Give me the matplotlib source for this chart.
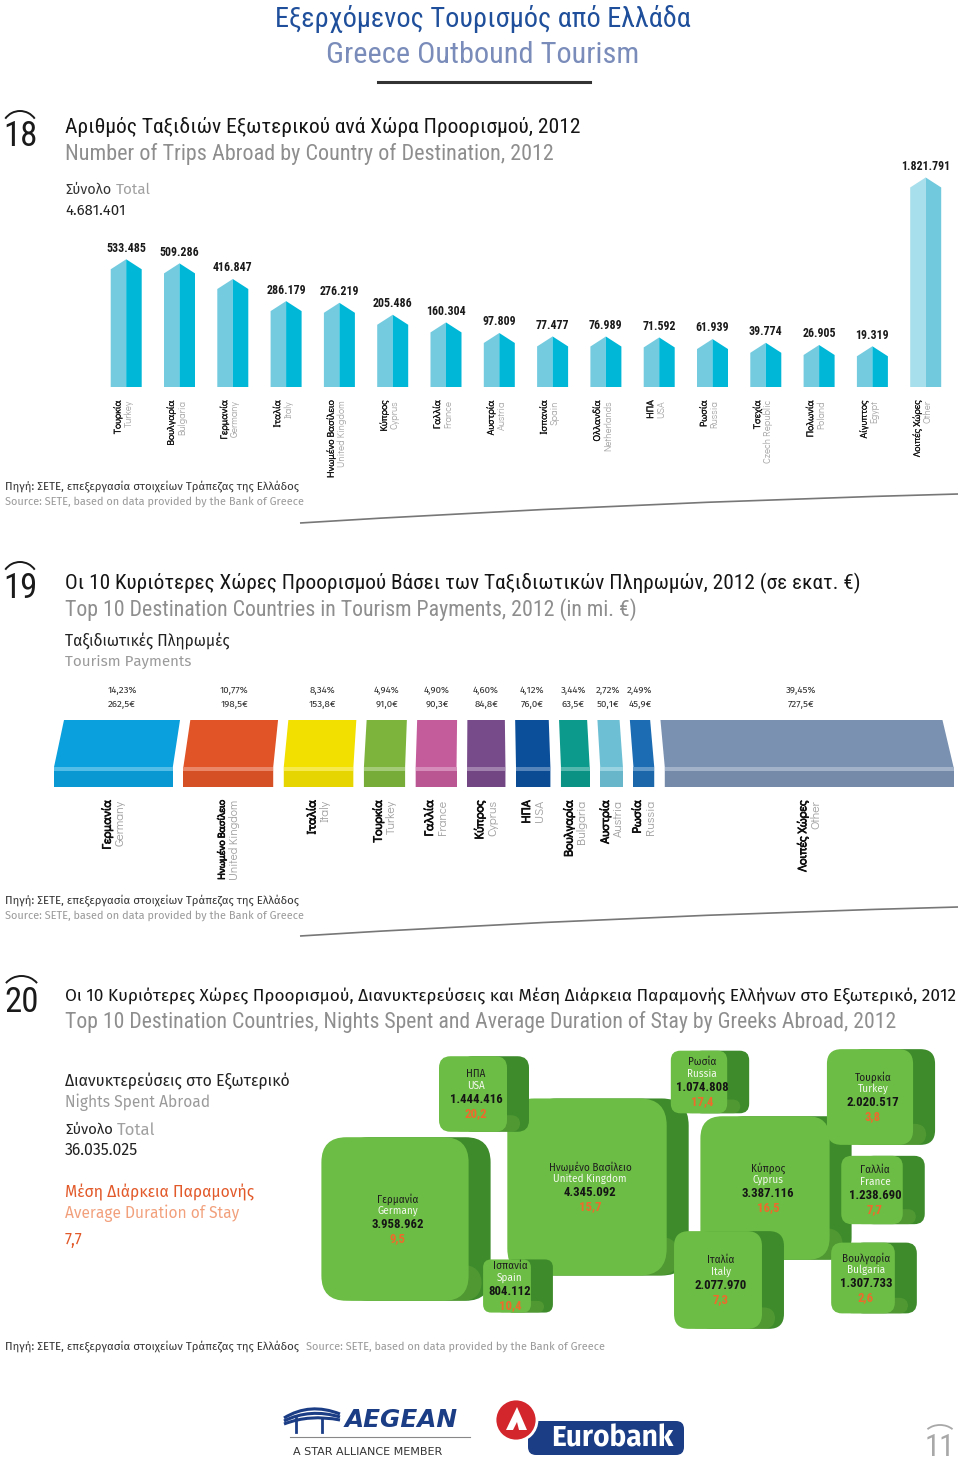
import matplotlib
matplotlib.use('Agg')
import matplotlib.pyplot as plt
import matplotlib.colors as mc
import matplotlib.patheffects as pe
from matplotlib.patches import Polygon, FancyBboxPatch, Arc, PathPatch, Circle
from matplotlib.path import Path
from matplotlib import font_manager as fm

# ---------------- DATA ----------------
trip_gr = ['Τουρκία', 'Βουλγαρία', 'Γερμανία', 'Ιταλία', 'Ηνωμένο Βασίλειο', 'Κύπρος',
           'Γαλλία', 'Αυστρία', 'Ισπανία', 'Ολλανδία', 'ΗΠΑ', 'Ρωσία', 'Τσεχία',
           'Πολωνία', 'Αίγυπτος', 'Λοιπές Χώρες']
trip_en = ['Turkey', 'Bulgaria', 'Germany', 'Italy', 'United Kingdom', 'Cyprus',
           'France', 'Austria', 'Spain', 'Netherlands', 'USA', 'Russia',
           'Czech Republic', 'Poland', 'Egypt', 'Other']
trip_values = [533485, 509286, 416847, 286179, 276219, 205486, 160304, 97809,
               77477, 76989, 71592, 61939, 39774, 26905, 19319, 1821791]
trip_total = 4681401

pay_gr = ['Γερμανία', 'Ηνωμένο Βασίλειο', 'Ιταλία', 'Τουρκία', 'Γαλλία', 'Κύπρος',
          'ΗΠΑ', 'Βουλγαρία', 'Αυστρία', 'Ρωσία', 'Λοιπές Χώρες']
pay_en = ['Germany', 'United Kingdom', 'Italy', 'Turkey', 'France', 'Cyprus',
          'USA', 'Bulgaria', 'Austria', 'Russia', 'Other']
pay_values = [262.5, 198.5, 153.8, 91.0, 90.3, 84.8, 76.0, 63.5, 50.1, 45.9, 727.5]
pay_shares = [14.23, 10.77, 8.34, 4.94, 4.90, 4.60, 4.12, 3.44, 2.72, 2.49, 39.45]

night_gr = ['Ηνωμένο Βασίλειο', 'Γερμανία', 'Κύπρος', 'Ιταλία', 'Τουρκία', 'ΗΠΑ',
            'Βουλγαρία', 'Γαλλία', 'Ρωσία', 'Ισπανία']
night_en = ['United Kingdom', 'Germany', 'Cyprus', 'Italy', 'Turkey', 'USA',
            'Bulgaria', 'France', 'Russia', 'Spain']
night_values = [4345092, 3958962, 3387116, 2077970, 2020517, 1444416, 1307733,
                1238690, 1074808, 804112]
night_stay = [15.7, 9.5, 16.5, 7.3, 3.8, 20.2, 2.6, 7.7, 17.4, 10.4]
night_total = 36035025
stay_average = 7.7

# ---------------- LAYOUT / STYLE ----------------
# hand-arranged centres of the 3D boxes (chart 20), in page pixels
night_layout = [(587, 1187), (395, 1219), (765, 1188), (718, 1280), (870, 1097),
                (473, 1094), (863, 1278), (872, 1190), (699, 1082), (507, 1286)]

names = {f.name for f in fm.fontManager.ttflist}


def pick(cands, default='DejaVu Sans'):
    return next((n for n in cands if n in names), default)


COND = pick(['Roboto Condensed', 'Fira Sans Condensed', 'IBM Plex Sans Condensed', 'Roboto'])
BODY = pick(['Fira Sans', 'Open Sans', 'Noto Sans'])
GEO = pick(['Didact Gothic', 'Open Sans', 'Noto Sans'])


def fam(f):
    return [f, 'Noto Sans', 'DejaVu Sans']


def gnum(v):
    return f"{v:,}".replace(',', '.')


def dec(v, n=1):
    return f"{v:.{n}f}".replace('.', ',')


W, H = 960, 1462
fig = plt.figure(figsize=(W / 100, H / 100), dpi=100)
fig.patch.set_facecolor('white')
bg = fig.add_axes([0, 0, 1, 1])
bg.set_xlim(0, W)
bg.set_ylim(H, 0)
bg.axis('off')
R = fig.canvas.get_renderer()


def px_axes(l, t, r, b):
    a = fig.add_axes([l / W, 1 - b / H, (r - l) / W, (b - t) / H])
    a.axis('off')
    return a


def T(x, y, s, fs=10, color='#222222', f=None, w=None, ha='left', va='center',
      weight='normal', **kw):
    t = bg.text(x, y, s, fontsize=fs, color=color, family=fam(f or BODY), ha=ha,
                va=va, fontweight=weight, **kw)
    if w:
        bb = t.get_window_extent(renderer=R)
        t.set_fontsize(fs * w / bb.width)
    return t


def T_after(t, s, gap=4, **kw):
    bb = t.get_window_extent(renderer=R)
    x_end = bg.transData.inverted().transform((bb.x1, bb.y0))[0]
    x, y = t.get_position()
    return T(x_end + gap, y, s, **kw)


def fit_len(t, maxlen):
    bb = t.get_window_extent(renderer=R)
    if bb.height > maxlen:
        t.set_fontsize(t.get_fontsize() * maxlen / bb.height)


def sec_number(x, y, s, w):
    T(x + w / 2, y, s, fs=25, color='#1a1a1a', f=COND, ha='center')
    bg.add_patch(Arc((x + w / 2, y - 8), w + 6, 36, theta1=215, theta2=325,
                     color='#1a1a1a', lw=1.4))


def swoosh(p0, pc, p1, lw=1.2):
    path = Path([p0, pc, p1], [Path.MOVETO, Path.CURVE3, Path.CURVE3])
    bg.add_patch(PathPatch(path, fc='none', ec='#777777', lw=lw))


def lighten(c, f):
    return tuple(1 - (1 - x) * (1 - f) for x in mc.to_rgb(c))


def darken(c, f):
    return tuple(x * (1 - f) for x in mc.to_rgb(c))


GREY = '#8e8e8e'
SRC_GR = 'Πηγή: ΣΕΤΕ, επεξεργασία στοιχείων Τράπεζας της Ελλάδος'
SRC_EN = 'Source: SETE, based on data provided by the Bank of Greece'

# ---------------- HEADER ----------------
T(483, 19, 'Εξερχόμενος Τουρισμός από Ελλάδα', fs=22, color='#1f4f9b', f=COND,
  w=415, ha='center')
T(483, 55, 'Greece Outbound Tourism', fs=20, color='#7a8cba', f=COND, w=313,
  ha='center')
bg.plot([378, 590], [82, 82], color='#333333', lw=2.2)

# ---------------- CHART 18 ----------------
sec_number(5, 137, '18', 30)
T(65, 127, 'Αριθμός Ταξιδιών Εξωτερικού ανά Χώρα Προορισμού, 2012', fs=15,
  color='#151515', f=COND, w=515)
T(65, 154, 'Number of Trips Abroad by Country of Destination, 2012', fs=15,
  color=GREY, f=COND, w=488)
t = T(65, 190, 'Σύνολο', fs=11, color='#333333', w=46)
T_after(t, 'Total', gap=4, fs=11, color='#a0a0a0')
T(65, 211, gnum(trip_total), fs=11, color='#222222', w=60)

PXU = 0.1692 / 1000          # pixels per trip
BASE_PX = 27.45              # visual stub below the zero line
X0_18, STEP_18 = 126.2, 53.3
TOP_18, BOT_18 = 150, 387
BREAK_18 = 1017000           # scale break for the "Other" column
ax18 = px_axes(X0_18 - STEP_18 / 2, TOP_18,
               X0_18 + (len(trip_values) - 0.5) * STEP_18, BOT_18)
Y0 = -BASE_PX / PXU
ax18.set_xlim(-0.5, len(trip_values) - 0.5)
ax18.set_ylim(Y0, Y0 + (BOT_18 - TOP_18) / PXU)
hw = 15.5 / STEP_18
roof = 10 / PXU
for i, (v, g, e) in enumerate(zip(trip_values, trip_gr, trip_en)):
    other = (i == len(trip_values) - 1)
    dv = min(v, BREAK_18)
    cl, cr = ('#a8dfec', '#71c9dd') if other else ('#74cbe0', '#00b7d8')
    ax18.add_patch(Polygon([(i - hw, Y0), (i - hw, dv), (i, dv + roof), (i, Y0)],
                           closed=True, fc=cl, ec='none'))
    ax18.add_patch(Polygon([(i, Y0), (i, dv + roof), (i + hw, dv), (i + hw, Y0)],
                           closed=True, fc=cr, ec='none'))
    ax18.annotate(gnum(v), (i, dv + roof), xytext=(0, 8), textcoords='offset points',
                  ha='center', va='center', fontsize=8.6, fontweight='bold',
                  color='#1a1a1a', family=fam(COND), annotation_clip=False)
    ax18.annotate(g, (i, Y0), xytext=(-6.3, -9.5), textcoords='offset points',
                  rotation=90, ha='center', va='top', fontsize=7.0, color='#111111',
                  family=fam(GEO), annotation_clip=False, path_effects=[
                      pe.withStroke(linewidth=0.2, foreground='#111111')])
    ax18.annotate(e, (i, Y0), xytext=(1.8, -9.5), textcoords='offset points',
                  rotation=90, ha='center', va='top', fontsize=7.0, color='#a5a5a5',
                  family=fam(GEO), annotation_clip=False)

T(5, 487, SRC_GR, fs=8, color='#333333', w=295)
T(5, 502, SRC_EN, fs=8, color='#9a9a9a', w=300)
swoosh((300, 523), (620, 503), (958, 494))

# ---------------- CHART 19 ----------------
sec_number(5, 588, '19', 30)
T(65, 583, 'Οι 10 Κυριότερες Χώρες Προορισμού Βάσει των Ταξιδιωτικών Πληρωμών, 2012 (σε εκατ. €)',
  fs=15, color='#151515', f=COND, w=798)
T(65, 610, 'Top 10 Destination Countries in Tourism Payments, 2012 (in mi. €)', fs=15,
  color=GREY, f=COND, w=575)
T(65, 641, 'Ταξιδιωτικές Πληρωμές', fs=12, color='#222222', w=165)
T(65, 662, 'Tourism Payments', fs=12, color='#9a9a9a', w=127)

pay_colors = ['#0aa0dd', '#e05427', '#f2e000', '#7db53c', '#c45b9a', '#774a89',
              '#0b4f9b', '#0b9a8b', '#6dc0d4', '#1c6cb3', '#7a91b1']
PXE = 0.442                   # pixels per million euro
X0_19 = 64
GAP_19 = 10.3 / PXE
OTHER_SQUEEZE = 0.877
TOP_19, BOT_19 = 720, 787
ax19 = px_axes(40, TOP_19, 960, BOT_19)
ax19.set_xlim((40 - X0_19) / PXE, (960 - X0_19) / PXE)
ax19.set_ylim(0, 1)
XC = (480 - X0_19) / PXE
K = 0.024
S_TOP, S_BOT = 0.298, 0.239


def shift(x):
    return x + K * (x - XC)


cum = 0.0
for i, (v, p, g, e, c) in enumerate(zip(pay_values, pay_shares, pay_gr, pay_en, pay_colors)):
    wv = v * (OTHER_SQUEEZE if i == len(pay_values) - 1 else 1.0)
    L, Rr = cum, cum + wv
    Lb, Rb = shift(L), shift(Rr)
    ax19.add_patch(Polygon([(L, 1), (Rr, 1), (Rb, S_TOP), (Rb, 0), (Lb, 0), (Lb, S_TOP)],
                           closed=True, fc=c, ec='none'))
    ax19.add_patch(Polygon([(Lb, 0), (Rb, 0), (Rb, S_BOT), (Lb, S_BOT)], closed=True,
                           fc=darken(c, 0.05), ec='none'))
    ax19.add_patch(Polygon([(Lb, S_BOT), (Rb, S_BOT), (Rb, S_TOP), (Lb, S_TOP)], closed=True,
                           fc=lighten(c, 0.3), ec='none'))
    ctop = (L + Rr) / 2
    ax19.annotate(dec(p, 2) + '%', (ctop, 1), xytext=(0, 21.6), textcoords='offset points',
                  ha='center', va='center', fontsize=7.0, color='#333333',
                  family=fam(BODY), annotation_clip=False)
    ax19.annotate(dec(v) + '€', (ctop, 1), xytext=(0, 11.5), textcoords='offset points',
                  ha='center', va='center', fontsize=7.0, color='#333333',
                  family=fam(BODY), annotation_clip=False)
    cb = (Lb + Rb) / 2
    tg = ax19.annotate(g, (cb, 0), xytext=(-4.8, -9.4), textcoords='offset points',
                       rotation=90, ha='center', va='top', fontsize=8.8, color='#111111',
                       family=fam(GEO), annotation_clip=False,
                       path_effects=[pe.withStroke(linewidth=0.6, foreground='#111111')])
    te = ax19.annotate(e, (cb, 0), xytext=(4.6, -9.4), textcoords='offset points',
                       rotation=90, ha='center', va='top', fontsize=8.8, color='#a0a0a0',
                       family=fam(GEO), annotation_clip=False)
    fit_len(tg, 80)
    fit_len(te, 80)
    cum = Rr + GAP_19

T(5, 901, SRC_GR, fs=8, color='#333333', w=295)
T(5, 916, SRC_EN, fs=8, color='#9a9a9a', w=300)
swoosh((300, 936), (620, 916), (958, 907))

# ---------------- CHART 20 ----------------
sec_number(5, 1002, '20', 33)
T(65, 996, 'Οι 10 Κυριότερες Χώρες Προορισμού, Διανυκτερεύσεις και Μέση Διάρκεια Παραμονής Ελλήνων στο Εξωτερικό, 2012',
  fs=14, color='#151515', f=BODY, w=892)
T(65, 1022, 'Top 10 Destination Countries, Nights Spent and Average Duration of Stay by Greeks Abroad, 2012',
  fs=14, color=GREY, f=COND, w=838)
T(65, 1081, 'Διανυκτερεύσεις στο Εξωτερικό', fs=12, color='#222222', w=225)
T(65, 1102, 'Nights Spent Abroad', fs=12, color='#9a9a9a', w=145)
t = T(65, 1130, 'Σύνολο', fs=12, color='#222222', w=48)
T_after(t, 'Total', gap=4, fs=12, color='#a0a0a0')
T(65, 1150, gnum(night_total), fs=12, color='#222222', w=73)
T(65, 1192, 'Μέση Διάρκεια Παραμονής', fs=12, color='#e2592a', w=189)
T(65, 1213, 'Average Duration of Stay', fs=12, color='#f2a07c', w=175)
T(65, 1240, dec(stay_average), fs=12, color='#e2592a', w=18)

BOX_A, BOX_B = 25.0, 35.0      # px, px per million nights
DEPTH = 22
FRONT, SIDE, SIDE_LIGHT = '#6cbd45', '#3d8b2b', '#5ea338'
z = 3
for g, e, v, s, (cx, cy) in zip(night_gr, night_en, night_values, night_stay, night_layout):
    h = BOX_A + BOX_B * v / 1e6
    w = 0.9 * h
    r = 0.17 * w
    bg.add_patch(FancyBboxPatch((cx - w / 2 + DEPTH, cy - h / 2), w, h,
                                boxstyle=f"round,pad=0,rounding_size={r}",
                                fc=SIDE, ec='none', zorder=z))
    bg.add_patch(FancyBboxPatch((cx - w / 2 + DEPTH * 0.6, cy + h / 2 - 0.22 * h),
                                w, 0.22 * h,
                                boxstyle=f"round,pad=0,rounding_size={r * 0.8}",
                                fc=SIDE_LIGHT, ec='none', zorder=z, alpha=0.55))
    bg.add_patch(FancyBboxPatch((cx - w / 2, cy - h / 2), w, h,
                                boxstyle=f"round,pad=0,rounding_size={r}",
                                fc=FRONT, ec='none', zorder=z + 1))
    tx = cx + 3
    bg.text(tx, cy - 20, g, ha='center', va='center', fontsize=7.2, color='#1e1e1e',
            family=fam(BODY), zorder=z + 2)
    bg.text(tx, cy - 8, e, ha='center', va='center', fontsize=7.2, color='#f4f8ef',
            family=fam(BODY), zorder=z + 2)
    bg.text(tx, cy + 5.5, gnum(v), ha='center', va='center', fontsize=9.2,
            fontweight='bold', color='#151515', family=fam(COND), zorder=z + 2)
    bg.text(tx, cy + 19.5, dec(s), ha='center', va='center', fontsize=9.2,
            fontweight='bold', color='#ee6a2c', family=fam(COND), zorder=z + 2)
    z += 3

T(5, 1347, SRC_GR, fs=8, color='#333333', w=295)
T(306, 1347, SRC_EN, fs=8, color='#9a9a9a', w=300)

# ---------------- FOOTER ----------------
NAVY = '#1b3d86'
T(345, 1420, 'AEGEAN', fs=18, color=NAVY, f='DejaVu Sans', w=113, weight='bold',
  style='italic')
bg.plot([290, 470], [1437, 1437], color='#888888', lw=0.8)
T(293, 1452, 'A STAR ALLIANCE MEMBER', fs=6.5, color='#333333', f='DejaVu Sans', w=148)
for dy in (0, 6, 12):
    bg.add_patch(PathPatch(Path([(284, 1418 + dy / 2), (310, 1402 + dy), (340, 1414 + dy / 2)],
                                [Path.MOVETO, Path.CURVE3, Path.CURVE3]),
                           fc='none', ec=NAVY, lw=2.2))
bg.plot([296, 296], [1418, 1432], color=NAVY, lw=2)
bg.plot([322, 322], [1418, 1432], color=NAVY, lw=2)

bg.add_patch(FancyBboxPatch((528, 1421), 156, 34, boxstyle="round,pad=0,rounding_size=8",
                            fc=NAVY, ec='none', zorder=2))
bg.add_patch(Circle((516, 1420), 21, fc='#d3262c', ec='white', lw=2, zorder=3))
bg.add_patch(Polygon([(506, 1430), (517, 1407), (527, 1430), (519, 1430), (517, 1422),
                      (513, 1430)], closed=True, fc='white', ec='none', zorder=4))
T(612, 1439, 'Eurobank', fs=18, color='white', f=BODY, w=122, ha='center', weight='bold',
  zorder=5)

T(940, 1447, '11', fs=22, color='#a8a8a8', f=COND, ha='center')
bg.add_patch(Arc((940, 1438), 34, 26, theta1=215, theta2=325, color='#a8a8a8', lw=1.3))

fig.savefig('out.png', dpi=100, facecolor='white')
